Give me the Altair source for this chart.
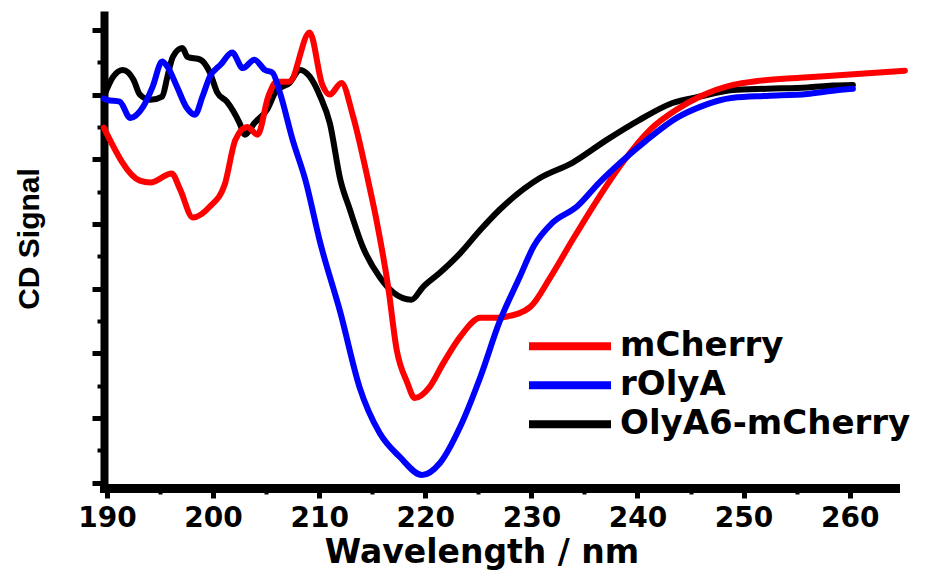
import altair as alt
import pandas as pd

series_names = ["mCherry", "rOlyA", "OlyA6-mCherry"]
series_colors = ["#ff0000", "#0000ff", "#000000"]

mcherry_nm = [189.7, 193.1, 194.1, 196.1, 196.9, 198.1, 199.7, 201.1, 202.1, 203.2, 204.2,
              205.2, 206.0, 207.2, 209.1, 210.3, 211.0, 212.1, 213.2, 214.6, 215.4, 216.5,
              217.3, 218.3, 219.0, 220.4, 221.7, 223.3, 225.2, 226.8, 227.7, 229.9, 231.8,
              233.9, 236.2, 238.6, 241.2, 243.7, 245.9, 249.0, 251.3, 255.3, 260.0, 265.2]
mcherry_cd = [5.49, 4.67, 4.64, 4.78, 4.53, 4.10, 4.27, 4.61, 5.30, 5.50, 5.38,
              5.97, 6.20, 6.20, 6.96, 6.15, 6.00, 6.18, 5.66, 4.68, 4.06, 3.03,
              2.06, 1.55, 1.31, 1.48, 1.85, 2.26, 2.55, 2.55, 2.57, 2.72, 3.18,
              3.76, 4.37, 4.95, 5.46, 5.77, 5.97, 6.15, 6.21, 6.26, 6.31, 6.37]

rolya_nm = [189.7, 190.0, 191.2, 192.2, 193.4, 194.3, 195.2, 195.7, 196.6, 197.5, 198.3,
            199.0, 199.7, 200.7, 201.8, 202.8, 203.9, 204.9, 205.6, 206.3, 207.5, 208.7,
            210.1, 212.0, 213.8, 215.7, 217.6, 219.7, 221.4, 223.3, 225.2, 227.0, 228.9,
            230.2, 232.0, 234.3, 236.4, 238.4, 240.9, 243.7, 245.9, 249.0, 252.2, 256.0,
            258.4, 260.3]
rolya_cd = [5.94, 5.92, 5.89, 5.64, 5.81, 6.12, 6.51, 6.43, 6.12, 5.80, 5.69,
            5.97, 6.28, 6.46, 6.65, 6.41, 6.54, 6.38, 6.34, 6.03, 5.30, 4.68,
            3.71, 2.63, 1.48, 0.77, 0.40, 0.12, 0.31, 0.87, 1.64, 2.49, 3.18,
            3.65, 4.02, 4.27, 4.64, 4.95, 5.30, 5.64, 5.81, 5.95, 5.98, 6.01,
            6.06, 6.09]

olya6_nm = [189.7, 190.6, 191.5, 192.5, 193.1, 194.1, 195.2, 195.7, 196.2, 197.1, 197.6,
            198.8, 199.7, 200.4, 201.3, 202.5, 203.0, 203.9, 205.1, 206.0, 207.2, 208.2,
            209.1, 210.1, 211.0, 212.0, 212.9, 214.1, 215.7, 217.0, 218.7, 219.8, 221.4,
            223.3, 225.2, 227.0, 230.8, 233.9, 237.1, 240.2, 243.3, 245.9, 249.0,
            252.2, 256.0, 258.4, 260.3]
olya6_cd = [5.97, 6.28, 6.38, 6.23, 6.00, 5.92, 5.97, 6.28, 6.58, 6.72, 6.58,
            6.54, 6.34, 6.03, 5.89, 5.56, 5.38, 5.56, 5.77, 6.07, 6.18, 6.38,
            6.28, 5.97, 5.56, 4.68, 4.22, 3.65, 3.18, 2.94, 2.83, 3.03, 3.25,
            3.55, 3.91, 4.22, 4.71, 4.95, 5.30, 5.61, 5.87, 5.97, 6.07,
            6.09, 6.11, 6.14, 6.15]

x_major = [190, 200, 210, 220, 230, 240, 250, 260]
x_minor = [195, 205, 215, 225, 235, 245, 255]
y_major = [0, 1, 2, 3, 4, 5, 6, 7]
y_minor = [0.5, 1.5, 2.5, 3.5, 4.5, 5.5, 6.5]

rows = []
for name, xs, ys in [("OlyA6-mCherry", olya6_nm, olya6_cd),
                     ("mCherry", mcherry_nm, mcherry_cd),
                     ("rOlyA", rolya_nm, rolya_cd)]:
    for x, y in zip(xs, ys):
        rows.append({"wavelength": x, "signal": y, "series": name})
df = pd.DataFrame(rows)

xscale = alt.Scale(domain=[189.72, 264.27], nice=False, zero=False)
yscale = alt.Scale(domain=[-0.08, 7.23], nice=False, zero=False)

FONT = "DejaVu Sans"

lines = alt.Chart(df).mark_line(strokeWidth=6, strokeJoin="round", strokeCap="round",
                                interpolate="monotone").encode(
    x=alt.X("wavelength:Q", scale=xscale,
            axis=alt.Axis(values=x_major, orient="bottom", title="Wavelength / nm",
                          tickSize=10, tickWidth=5, labelPadding=6,
                          labelFont=FONT, labelFontSize=28, labelFontWeight="bold",
                          labelColor="black", labelFlush=False, labelOverlap=False,
                          titleFont=FONT, titleFontSize=33, titleFontWeight="bold",
                          titleColor="black", titleX=377.5, titleY=74,
                          titleBaseline="alphabetic", titleAlign="center",
                          domainWidth=9, domainCap="square", domainColor="black",
                          tickColor="black", grid=False, format="d")),
    y=alt.Y("signal:Q", scale=yscale,
            axis=alt.Axis(values=y_major, orient="left", title="CD Signal", labels=False,
                          tickSize=12, tickWidth=5,
                          titleFont="Liberation Sans", titleFontSize=30, titleFontWeight="bold",
                          titleColor="black", titleX=-75, titleY=223.5, titleAngle=270,
                          titleAlign="center", titleBaseline="middle",
                          domainWidth=8, domainCap="square", domainColor="black",
                          tickColor="black", grid=False)),
    color=alt.Color("series:N",
                    scale=alt.Scale(domain=series_names, range=series_colors),
                    legend=alt.Legend(title=None, orient="none", legendX=421, legendY=312,
                                      symbolType="stroke", symbolSize=6724,
                                      symbolStrokeWidth=8, clipHeight=38.5, rowPadding=0,
                                      labelOffset=5, labelFont=FONT, labelFontSize=34,
                                      labelFontWeight="bold", labelColor="black",
                                      padding=0, labelLimit=400)),
)

minor = alt.Chart(df).mark_line(strokeOpacity=0).encode(
    x=alt.X("wavelength:Q", scale=xscale,
            axis=alt.Axis(values=x_minor, orient="bottom", title=None, labels=False,
                          domain=False, tickSize=6, tickWidth=4, tickColor="black",
                          grid=False)),
    y=alt.Y("signal:Q", scale=yscale,
            axis=alt.Axis(values=y_minor, orient="left", title=None, labels=False,
                          domain=False, tickSize=7, tickWidth=4, tickColor="black",
                          grid=False)),
    detail="series:N",
)

chart = alt.layer(minor, lines).resolve_axis(x="independent", y="independent").properties(
    width=791, height=473,
    autosize=alt.AutoSizeParams(type="none"),
    padding={"left": 96, "top": 7, "right": 25, "bottom": 84},
    background="white",
).configure_view(stroke=None)

chart.save("out.html", embed_options={"renderer": "svg", "actions": False})
